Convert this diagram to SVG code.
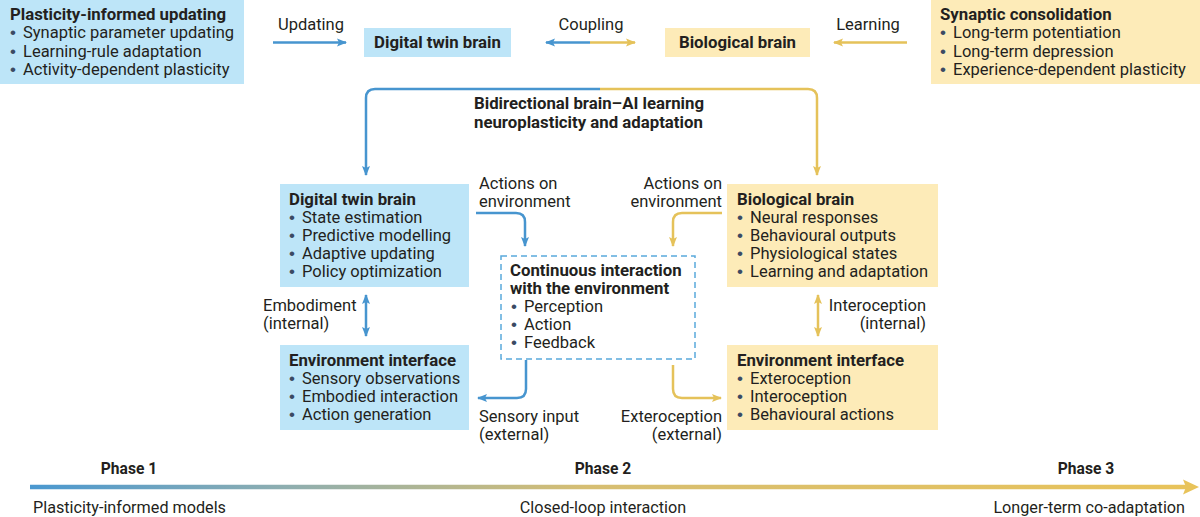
<svg xmlns="http://www.w3.org/2000/svg" width="1200" height="517" viewBox="0 0 1200 517">
<defs>
<style>
text{font-family:Roboto,"Liberation Sans",sans-serif;font-size:16.5px;fill:#231f20}
.b{font-weight:bold;font-size:16.8px}
.d{fill:#3b4a63;font-family:"Liberation Sans",sans-serif;font-size:17px}
.bf{fill:#bde5f8}
.yf{fill:#fdebb8}
.bl{stroke:#4795cf;stroke-width:2.5;fill:none}
.yl{stroke:#e5c25a;stroke-width:2.5;fill:none}
.ph{font-weight:bold;font-size:15.6px}
.sm{font-size:16.2px}
</style>
<marker id="ab" viewBox="0 0 10 10" refX="9" refY="5" markerWidth="10" markerHeight="10" markerUnits="userSpaceOnUse" orient="auto-start-reverse"><path d="M0,1 L10,5 L0,9 L2,5 z" fill="#4795cf"/></marker>
<marker id="ay" viewBox="0 0 10 10" refX="9" refY="5" markerWidth="10" markerHeight="10" markerUnits="userSpaceOnUse" orient="auto-start-reverse"><path d="M0,1 L10,5 L0,9 L2,5 z" fill="#e5c25a"/></marker>
<linearGradient id="g" gradientUnits="userSpaceOnUse" x1="30" y1="0" x2="1190" y2="0">
<stop offset="0" stop-color="#4a98d0"/>
<stop offset="0.22" stop-color="#8eaeb0"/>
<stop offset="0.48" stop-color="#d6be72"/>
<stop offset="1" stop-color="#e8c35a"/>
</linearGradient>
</defs>
<rect width="1200" height="517" fill="#ffffff"/>

<g id="plasticity-updating">
<rect class="bf" x="0" y="0" width="244" height="84"/>
<text class="b" x="10" y="20">Plasticity-informed updating</text>
<text x="10" y="38"><tspan class="d">•</tspan><tspan x="23">Synaptic parameter updating</tspan></text>
<text x="10" y="57"><tspan class="d">•</tspan><tspan x="23">Learning-rule adaptation</tspan></text>
<text x="10" y="75"><tspan class="d">•</tspan><tspan x="23">Activity-dependent plasticity</tspan></text>
</g>

<g id="dt-top">
<rect class="bf" x="364" y="28" width="147" height="29"/>
<text class="b" x="437.5" y="48" text-anchor="middle">Digital twin brain</text>
</g>

<g id="bio-top">
<rect class="yf" x="665" y="28" width="145" height="29"/>
<text class="b" x="737.5" y="48" text-anchor="middle">Biological brain</text>
</g>

<g id="synaptic-consolidation">
<rect class="yf" x="931" y="0" width="269" height="84"/>
<text class="b" x="940" y="20">Synaptic consolidation</text>
<text x="940" y="38"><tspan class="d">•</tspan><tspan x="953">Long-term potentiation</tspan></text>
<text x="940" y="57"><tspan class="d">•</tspan><tspan x="953">Long-term depression</tspan></text>
<text x="940" y="75"><tspan class="d">•</tspan><tspan x="953">Experience-dependent plasticity</tspan></text>
</g>

<g id="loop-title">
<text class="b" x="474" y="109">Bidirectional brain–AI learning</text>
<text class="b" x="474" y="128">neuroplasticity and adaptation</text>
</g>

<g id="dt-mid">
<rect class="bf" x="280" y="184" width="189" height="103"/>
<text class="b" x="289" y="205">Digital twin brain</text>
<text x="289" y="223"><tspan class="d">•</tspan><tspan x="302">State estimation</tspan></text>
<text x="289" y="241"><tspan class="d">•</tspan><tspan x="302">Predictive modelling</tspan></text>
<text x="289" y="259"><tspan class="d">•</tspan><tspan x="302">Adaptive updating</tspan></text>
<text x="289" y="277"><tspan class="d">•</tspan><tspan x="302">Policy optimization</tspan></text>
</g>

<g id="bio-mid">
<rect class="yf" x="727" y="184" width="211" height="103"/>
<text class="b" x="737" y="205">Biological brain</text>
<text x="737" y="223"><tspan class="d">•</tspan><tspan x="750">Neural responses</tspan></text>
<text x="737" y="241"><tspan class="d">•</tspan><tspan x="750">Behavioural outputs</tspan></text>
<text x="737" y="259"><tspan class="d">•</tspan><tspan x="750">Physiological states</tspan></text>
<text x="737" y="277"><tspan class="d">•</tspan><tspan x="750">Learning and adaptation</tspan></text>
</g>

<g id="environment">
<rect x="501" y="256" width="194" height="103" fill="none" stroke="#5aa9dc" stroke-width="1.5" stroke-dasharray="6 4"/>
<text class="b" x="510" y="276">Continuous interaction</text>
<text class="b" x="510" y="294">with the environment</text>
<text x="511" y="312"><tspan class="d">•</tspan><tspan x="524">Perception</tspan></text>
<text x="511" y="330"><tspan class="d">•</tspan><tspan x="524">Action</tspan></text>
<text x="511" y="348"><tspan class="d">•</tspan><tspan x="524">Feedback</tspan></text>
</g>

<g id="env-left">
<rect class="bf" x="280" y="345" width="189" height="85"/>
<text class="b" x="289" y="366">Environment interface</text>
<text x="289" y="384"><tspan class="d">•</tspan><tspan x="302">Sensory observations</tspan></text>
<text x="289" y="402"><tspan class="d">•</tspan><tspan x="302">Embodied interaction</tspan></text>
<text x="289" y="420"><tspan class="d">•</tspan><tspan x="302">Action generation</tspan></text>
</g>

<g id="env-right">
<rect class="yf" x="727" y="345" width="211" height="85"/>
<text class="b" x="737" y="366">Environment interface</text>
<text x="737" y="384"><tspan class="d">•</tspan><tspan x="750">Exteroception</tspan></text>
<text x="737" y="402"><tspan class="d">•</tspan><tspan x="750">Interoception</tspan></text>
<text x="737" y="420"><tspan class="d">•</tspan><tspan x="750">Behavioural actions</tspan></text>
</g>

<g id="connectors">
<path class="bl" d="M273,42.5 H346" marker-end="url(#ab)"/>
<text x="311" y="30" text-anchor="middle">Updating</text>
<path class="bl" d="M590,42.5 H546" marker-end="url(#ab)"/>
<path class="yl" d="M590,42.5 H635" marker-end="url(#ay)"/>
<text x="591" y="30" text-anchor="middle">Coupling</text>
<path class="yl" d="M907,42.5 H834" marker-end="url(#ay)"/>
<text x="868" y="30" text-anchor="middle">Learning</text>

<path class="bl" d="M600,89 H375 Q366,89 366,98 V175" marker-end="url(#ab)"/>
<path class="yl" d="M600,89 H808 Q817,89 817,98 V175" marker-end="url(#ay)"/>

<path class="bl" d="M476,213 H516 Q525,213 525,222 V246" marker-end="url(#ab)"/>
<text x="479" y="189">Actions on</text>
<text x="479" y="207">environment</text>
<path class="yl" d="M722,213 H682 Q673,213 673,222 V246" marker-end="url(#ay)"/>
<text x="722" y="189" text-anchor="end">Actions on</text>
<text x="722" y="207" text-anchor="end">environment</text>

<path class="bl" d="M366,295 V336" marker-start="url(#ab)" marker-end="url(#ab)"/>
<text x="263" y="311">Embodiment</text>
<text x="263" y="329">(internal)</text>
<path class="yl" d="M818,295 V336" marker-start="url(#ay)" marker-end="url(#ay)"/>
<text x="926" y="311" text-anchor="end">Interoception</text>
<text x="926" y="329" text-anchor="end">(internal)</text>

<path class="bl" d="M526,360 V389 Q526,398 517,398 H478" marker-end="url(#ab)"/>
<text x="479" y="422">Sensory input</text>
<text x="479" y="440">(external)</text>
<path class="yl" d="M673,365 V389 Q673,398 682,398 H721" marker-end="url(#ay)"/>
<text x="722" y="422" text-anchor="end">Exteroception</text>
<text x="722" y="440" text-anchor="end">(external)</text>
</g>

<g id="timeline">
<path d="M30,487 H1188" stroke="url(#g)" stroke-width="4.5" fill="none"/>
<path d="M1183,479.5 L1199,487 L1183,494.5 L1186,487 z" fill="#e8c35a"/>
<text class="ph" x="129" y="474" text-anchor="middle">Phase 1</text>
<text class="ph" x="603" y="474" text-anchor="middle">Phase 2</text>
<text class="ph" x="1086" y="474" text-anchor="middle">Phase 3</text>
<text class="sm" x="33" y="513">Plasticity-informed models</text>
<text class="sm" x="603" y="513" text-anchor="middle">Closed-loop interaction</text>
<text class="sm" x="1185" y="513" text-anchor="end">Longer-term co-adaptation</text>
</g>
</svg>
